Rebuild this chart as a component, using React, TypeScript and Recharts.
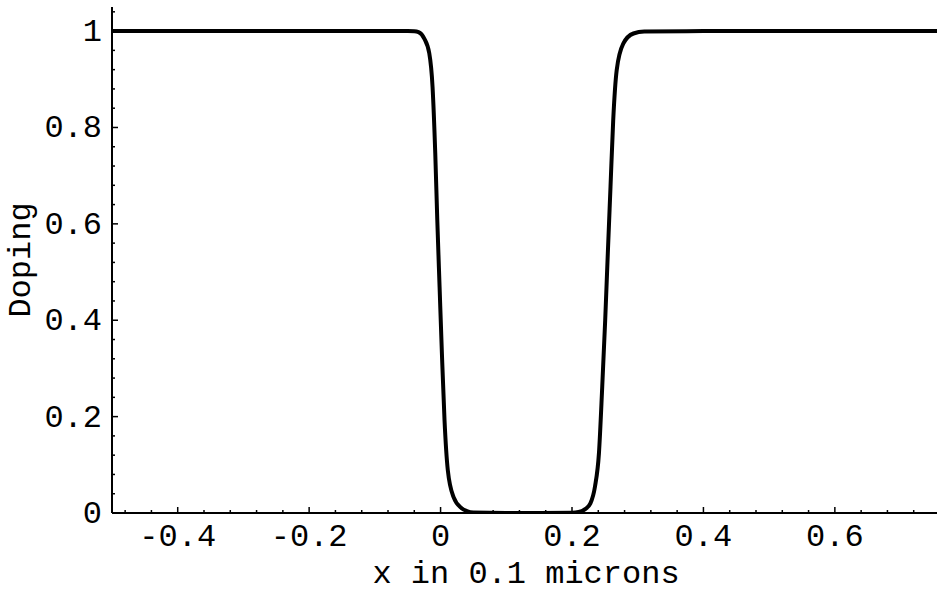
import React from 'react';
import { LineChart, Line, XAxis, YAxis } from 'recharts';

// doping profile (x in 0.1 microns)
const xValues = [
  -0.5, -0.1, -0.05, -0.04, -0.0335, -0.025, -0.0172, -0.0122, -0.0081, -0.005,
  -0.0015, 0.002, 0.006, 0.011, 0.0198, 0.032, 0.04, 0.05, 0.1, 0.15,
  0.2, 0.21, 0.22, 0.228, 0.235, 0.241, 0.246, 0.2505, 0.2545, 0.2586,
  0.2627, 0.268, 0.278, 0.2935, 0.31, 0.4, 0.76,
];
const dopingValues = [
  1, 1, 1, 0.9998, 0.998, 0.985, 0.954, 0.884, 0.747, 0.608,
  0.469, 0.332, 0.193, 0.089, 0.033, 0.01, 0.004, 0.001, 0, 0,
  0.0005, 0.002, 0.008, 0.02, 0.055, 0.124, 0.262, 0.4, 0.539, 0.677,
  0.815, 0.919, 0.974, 0.995, 0.999, 1, 1,
];

const xMajorTicks = [-0.4, -0.2, 0, 0.2, 0.4, 0.6];
const yMajorTicks = [0, 0.2, 0.4, 0.6, 0.8, 1];

const xMinorTicks: number[] = [];
for (let i = -12; i <= 18; i++) xMinorTicks.push(Math.round(i * 4) / 100);
const yMinorTicks: number[] = [];
for (let i = 0; i <= 26; i++) yMinorTicks.push(Math.round(i * 4) / 100);

const data = xValues.map((x, i) => ({ x, doping: dopingValues[i] }));

const FONT = '"Liberation Mono", "Courier New", monospace';
const isMajor = (v: number, majors: number[]) => majors.some((m) => Math.abs(m - v) < 1e-6);
const fmt = (v: number) => String(Math.round(v * 10) / 10);

const XTick = (props: any) => {
  const { x, y, payload, side } = props;
  const v = payload.value;
  const major = isMajor(v, xMajorTicks);
  const len = major ? 6 : 3;
  const dir = side === 'top' ? 1 : -1;
  return (
    <g>
      <line x1={x} y1={y} x2={x} y2={y + dir * len} stroke="#000" strokeWidth={1.5} />
      {major && side === 'bottom' && (
        <text x={x} y={y + 33} textAnchor="middle" fontFamily={FONT} fontSize={32} fill="#000">
          {fmt(v)}
        </text>
      )}
    </g>
  );
};

const YTick = (props: any) => {
  const { x, y, payload, side } = props;
  const v = payload.value;
  const major = isMajor(v, yMajorTicks);
  const len = major ? 6 : 3;
  const dir = side === 'right' ? -1 : 1;
  return (
    <g>
      <line x1={x} y1={y} x2={x + dir * len} y2={y} stroke="#000" strokeWidth={1.5} />
      {major && side === 'left' && (
        <text x={x - 10} y={y + 10} textAnchor="end" fontFamily={FONT} fontSize={32} fill="#000">
          {fmt(v)}
        </text>
      )}
    </g>
  );
};

const axisLine = { stroke: '#000', strokeWidth: 2 };

export default function App() {
  return (
    <div style={{ position: 'absolute', left: 0, top: 0, width: 937, height: 604, overflow: 'hidden', background: '#fff' }}>
      <LineChart width={944} height={604} data={data} margin={{ top: 7, right: 4, bottom: 0, left: 0 }}>
        <XAxis
          dataKey="x"
          type="number"
          domain={[-0.5, 0.76]}
          allowDataOverflow
          ticks={xMinorTicks}
          interval={0}
          tickSize={0}
          tickMargin={0}
          axisLine={axisLine}
          tickLine={false}
          height={91}
          tick={(p: any) => <XTick {...p} side="bottom" />}
          label={{ value: 'x in 0.1 microns', position: 'insideBottom', offset: 21, fontFamily: FONT, fontSize: 32, fill: '#000' }}
        />
        <XAxis
          xAxisId="top"
          orientation="top"
          dataKey="x"
          type="number"
          domain={[-0.5, 0.76]}
          allowDataOverflow
          ticks={xMinorTicks}
          interval={0}
          tickSize={0}
          tickMargin={0}
          axisLine={axisLine}
          tickLine={false}
          height={0}
          tick={(p: any) => <XTick {...p} side="top" />}
        />
        <YAxis
          type="number"
          domain={[0, 1.05]}
          allowDataOverflow
          ticks={yMinorTicks}
          interval={0}
          tickSize={0}
          tickMargin={0}
          axisLine={axisLine}
          tickLine={false}
          width={112}
          tick={(p: any) => <YTick {...p} side="left" />}
          label={{ value: 'Doping', angle: -90, position: 'insideLeft', offset: 19, fontFamily: FONT, fontSize: 32, fill: '#000', style: { textAnchor: 'middle' } }}
        />
        <YAxis
          yAxisId="right"
          orientation="right"
          type="number"
          domain={[0, 1.05]}
          allowDataOverflow
          ticks={yMinorTicks}
          interval={0}
          tickSize={0}
          tickMargin={0}
          axisLine={axisLine}
          tickLine={false}
          width={0}
          tick={(p: any) => <YTick {...p} side="right" />}
        />
        <Line
          type="monotone"
          dataKey="doping"
          stroke="#000"
          strokeWidth={4}
          dot={false}
          isAnimationActive={false}
        />
      </LineChart>
    </div>
  );
}
